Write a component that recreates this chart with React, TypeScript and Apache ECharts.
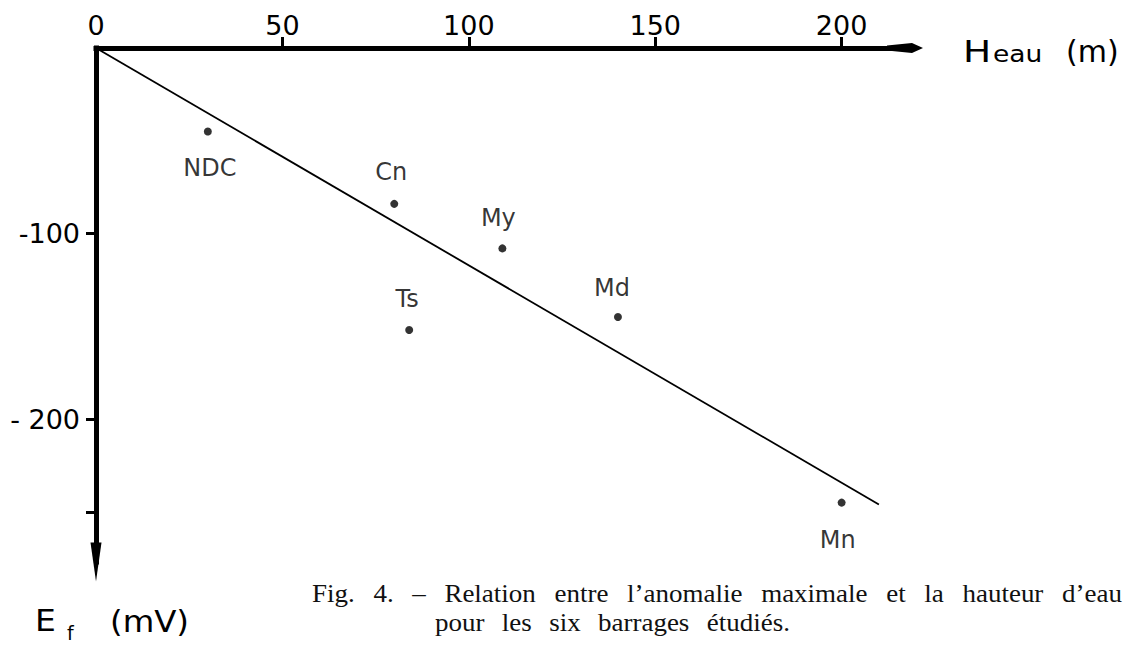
import React, { useEffect, useRef } from "react";
import * as echarts from "echarts";

// ---- data ----
const xTickValues = [50, 100, 150, 200];
const xLabelValues = [0, 50, 100, 150, 200];
const yTickValues = [-100, -200, -250];
const yLabelValues = [-100, -200];
const damNames = ["NDC", "Cn", "My", "Ts", "Md", "Mn"];
const waterHeight = [30, 80, 109, 84, 140, 200];
const anomaly = [-45, -84, -108, -152, -145, -245];
const trendStart = [0, 0];
const trendEnd = [210, -246];
const captionLine1 = ["Fig.", "4.", "–", "Relation", "entre", "l’anomalie", "maximale", "et", "la", "hauteur", "d’eau"];
const captionLine2 = ["pour", "les", "six", "barrages", "étudiés."];

export default function App() {
  const ref = useRef<HTMLDivElement>(null);

  useEffect(() => {
    const chart = echarts.init(ref.current!, null, { renderer: "svg" });
    const sans = "DejaVu Sans";
    const serif = "Liberation Serif";

    const labelOffsets: Record<string, number[]> = {
      NDC: [2, 36],
      Cn: [-3, -32],
      My: [-4, -30],
      Ts: [-2, -31],
      Md: [-6, -29],
      Mn: [-4, 37],
    };

    // caption layout: justified words measured with the installed serif font
    const capSize = 25;
    const capScale = 1.08;
    const ctx = document.createElement("canvas").getContext("2d")!;
    ctx.font = `${capSize}px "${serif}"`;
    const layoutLine = (words: string[], x0: number, x1: number, y: number) => {
      const widths = words.map((w) => ctx.measureText(w).width * capScale);
      const total = widths.reduce((a, b) => a + b, 0);
      const gap = (x1 - x0 - total) / (words.length - 1);
      let x = x0;
      return words.map((w, i) => {
        const el = {
          type: "text",
          x,
          y,
          scaleX: capScale,
          style: { text: w, font: `${capSize}px "${serif}"`, fill: "#111", textAlign: "left", textVerticalAlign: "middle" },
        };
        x += widths[i] + gap;
        return el;
      });
    };
    const captionGraphics = [
      ...layoutLine(captionLine1, 312, 1122, 594),
      ...layoutLine(captionLine2, 435, 790, 623),
    ];

    const points = damNames.map((n, i) => ({
      name: n,
      value: [waterHeight[i], anomaly[i]],
      label: { offset: labelOffsets[n] },
    }));

    const option: any = {
      animation: false,
      backgroundColor: "#fff",
      grid: { left: 96, top: 48, width: 809, height: 514 },
      xAxis: {
        type: "value",
        position: "top",
        min: 0,
        max: 217,
        axisLine: {
          show: true,
          onZero: false,
          symbol: ["none", "path://M5,0 L10,11 L7.5,36 L2.5,36 L0,11 Z"],
          symbolSize: [10, 36],
          lineStyle: { color: "#000", width: 5, cap: "square" },
        },
        axisTick: {
          show: true,
          length: 11,
          customValues: xTickValues,
          lineStyle: { color: "#000", width: 3 },
        },
        axisLabel: {
          show: true,
          margin: 9,
          customValues: xLabelValues,
          color: "#000",
          fontFamily: sans,
          fontSize: 27,
          formatter: (v: number) => String(v),
        },
        splitLine: { show: false },
      },
      yAxis: {
        type: "value",
        min: -277,
        max: 0,
        axisLine: {
          show: true,
          onZero: false,
          symbol: ["path://M5.5,0 L11,39 L0,39 Z", "none"],
          symbolSize: [11, 39],
          lineStyle: { color: "#000", width: 5, cap: "square" },
        },
        axisTick: {
          show: true,
          length: 10,
          customValues: yTickValues,
          lineStyle: { color: "#000", width: 3 },
        },
        axisLabel: {
          show: true,
          margin: 16,
          customValues: yLabelValues,
          color: "#000",
          fontFamily: sans,
          fontSize: 27,
          formatter: (v: number) => (v === -200 ? "- 200" : String(v)),
        },
        splitLine: { show: false },
      },
      series: [
        {
          type: "line",
          data: [trendStart, trendEnd],
          symbol: "none",
          lineStyle: { color: "#000", width: 1.8 },
          z: 1,
        },
        {
          type: "scatter",
          data: points,
          symbolSize: 8,
          itemStyle: { color: "#000" },
          label: {
            show: true,
            position: "inside",
            formatter: "{b}",
            color: "#000",
            fontFamily: sans,
            fontSize: 24,
            align: "center",
            verticalAlign: "middle",
          },
          z: 3,
        },
      ],
      graphic: [
        { type: "text", x: 963, y: 51, scaleX: 1.25, style: { text: "H", font: `30px "${sans}"`, fill: "#000", textAlign: "left", textVerticalAlign: "middle" } },
        { type: "text", x: 993, y: 54, scaleX: 1.15, style: { text: "eau", font: `23px "${sans}"`, fill: "#000", textAlign: "left", textVerticalAlign: "middle" } },
        { type: "text", x: 1066, y: 51, style: { text: "(m)", font: `30px "${sans}"`, fill: "#000", textAlign: "left", textVerticalAlign: "middle" } },
        { type: "text", x: 35, y: 621, scaleX: 1.1, style: { text: "E", font: `30px "${sans}"`, fill: "#000", textAlign: "left", textVerticalAlign: "middle" } },
        { type: "text", x: 67, y: 633, style: { text: "f", font: `19px "${sans}"`, fill: "#000", textAlign: "left", textVerticalAlign: "middle" } },
        { type: "text", x: 110, y: 621, scaleX: 1.08, style: { text: "(mV)", font: `30px "${sans}"`, fill: "#000", textAlign: "left", textVerticalAlign: "middle" } },
        ...captionGraphics,
      ],
    };

    chart.setOption(option);
    return () => chart.dispose();
  }, []);

  return <div ref={ref} style={{ position: "absolute", left: 0, top: 0, width: 1135, height: 648 }} />;
}
